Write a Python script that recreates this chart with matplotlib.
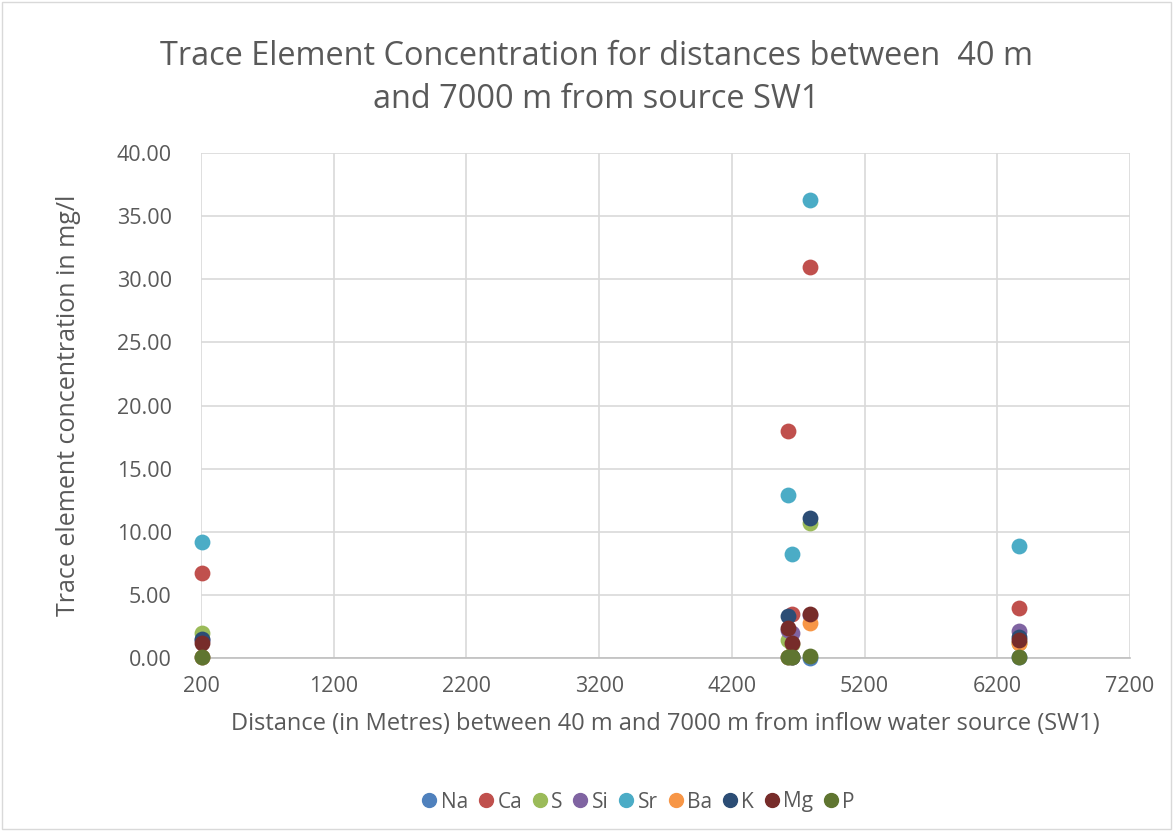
import matplotlib
matplotlib.use("Agg")
import matplotlib.pyplot as plt
from matplotlib.lines import Line2D

plt.rcParams['font.family'] = ['Open Sans', 'DejaVu Sans']

distances = [205, 4620, 4650, 4790, 6360]
elements = ["Na", "Ca", "S", "Si", "Sr", "Ba", "K", "Mg", "P"]
Na = [0.05, 0.05, 0.05, 0.0, 0.05]
Ca = [6.7, 18.0, 3.5, 31.0, 4.0]
S = [2.0, 1.4, 1.1, 10.7, 1.2]
Si = [1.4, 2.2, 2.0, 3.4, 2.1]
Sr = [9.2, 12.9, 8.2, 36.3, 8.9]
Ba = [0.1, 0.1, 0.1, 2.8, 1.2]
K = [1.5, 3.3, 0.1, 11.1, 1.7]
Mg = [1.2, 2.4, 1.2, 3.5, 1.4]
P = [0.05, 0.1, 0.1, 0.15, 0.05]
series = [Na, Ca, S, Si, Sr, Ba, K, Mg, P]
colors = ["#4F81BD", "#C0504D", "#9BBB59", "#8064A2", "#4BACC6",
          "#F79646", "#2C4D75", "#772C2A", "#5F7530"]
xticks = [200, 1200, 2200, 3200, 4200, 5200, 6200, 7200]
yticks = [0, 5, 10, 15, 20, 25, 30, 35, 40]

fig = plt.figure(figsize=(11.73, 8.31), dpi=100)
ax = fig.add_axes([201/1173, 1-658/831, (1130-201)/1173, (658-153)/831])

for name, vals, c in zip(elements, series, colors):
    ax.scatter(distances, vals, s=130, color=c, label=name, zorder=3,
               linewidths=0, clip_on=False)

ax.set_xlim(200, 7200)
ax.set_ylim(0, 40)
ax.set_xticks(xticks)
ax.set_yticks(yticks)
ax.set_yticklabels([f"{v:.2f}" for v in yticks])
ax.grid(True, color="#D9D9D9", linewidth=1.2, zorder=0)
ax.set_axisbelow(True)
for s in ["top", "right", "left"]:
    ax.spines[s].set_visible(False)
ax.spines["bottom"].set_color("#BFBFBF")
ax.spines["bottom"].set_linewidth(1.2)
ax.tick_params(length=0, labelsize=15.5, colors="#595959")
ax.tick_params(axis="x", pad=13)
ax.tick_params(axis="y", pad=21)

ax.set_xlabel("Distance (in Metres) between 40 m and 7000 m from inflow water source (SW1)",
              fontsize=17, color="#595959", labelpad=11)
ax.set_ylabel("Trace element concentration in mg/l", fontsize=18, color="#595959", labelpad=26)

fig.text(596/1173, 1-78/831, "Trace Element Concentration for distances between  40 m\nand 7000 m from source SW1",
         ha="center", va="center", fontsize=23.4, color="#595959", linespacing=1.38)

handles = [Line2D([0], [0], marker='o', linestyle='', markersize=10, color=c) for c in colors]
fig.legend(handles, elements, loc="center", bbox_to_anchor=(638/1173, 1-802/831), ncol=9,
           frameon=False, fontsize=15, labelcolor="#595959", handletextpad=0.15,
           columnspacing=0.45, handlelength=0.8)

border = plt.Rectangle((0.002, 0.002), 0.996, 0.996, transform=fig.transFigure,
                       fill=False, edgecolor="#D9D9D9", linewidth=1)
fig.patches.append(border)

fig.savefig("out.png", dpi=100)
